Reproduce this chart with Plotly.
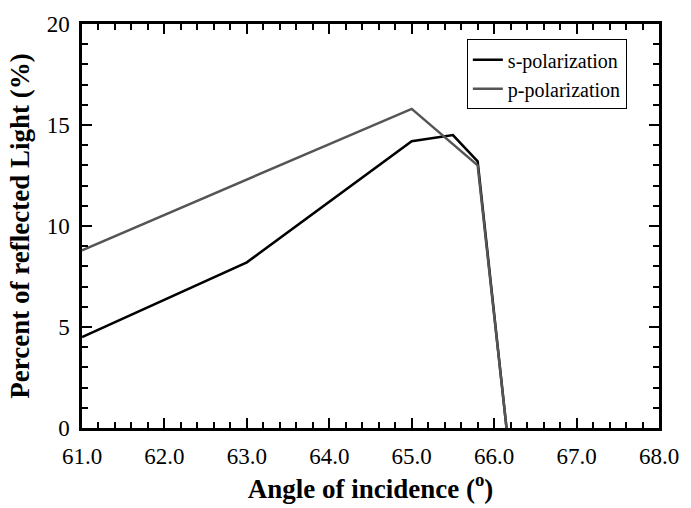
import plotly.graph_objects as go

# Reflectance vs. angle of incidence
angle_s = [61.0, 63.0, 65.0, 65.5, 65.8, 66.15]
refl_s = [4.5, 8.2, 14.2, 14.5, 13.2, 0.0]

angle_p = [61.0, 65.0, 65.8, 66.15]
refl_p = [8.8, 15.8, 13.0, 0.0]

x_ticks = [61, 62, 63, 64, 65, 66, 67, 68]
x_tick_text = ["61.0", "62.0", "63.0", "64.0", "65.0", "66.0", "67.0", "68.0"]
y_ticks = [0, 5, 10, 15, 20]

FONT = "Liberation Serif, Times New Roman, serif"

fig = go.Figure()
fig.add_trace(go.Scatter(x=angle_s, y=refl_s, mode="lines", name="s-polarization",
                         line=dict(color="#000000", width=2.5)))
fig.add_trace(go.Scatter(x=angle_p, y=refl_p, mode="lines", name="p-polarization",
                         line=dict(color="#555555", width=2.5)))

axis_common = dict(
    showline=True, linecolor="black", linewidth=2.5, mirror="ticks",
    ticks="inside", ticklen=10, tickwidth=2, tickcolor="black",
    showgrid=False, zeroline=False,
    tickfont=dict(family=FONT, size=23, color="black"),
)

fig.update_xaxes(
    range=[61, 68], tickvals=x_ticks, ticktext=x_tick_text,
    ticklabelstandoff=6,
    minor=dict(dtick=0.2, ticks="inside", ticklen=6, tickwidth=2, tickcolor="black"),
    title=dict(text="<b>Angle of incidence (<sup>o</sup>)</b>",
               font=dict(family=FONT, size=27, color="black"), standoff=8),
    **axis_common,
)
fig.update_yaxes(
    range=[0, 20], tickvals=y_ticks,
    ticklabelstandoff=5,
    minor=dict(dtick=1, ticks="inside", ticklen=6, tickwidth=2, tickcolor="black"),
    title=dict(text="<b>Percent of reflected Light (%)</b>",
               font=dict(family=FONT, size=27, color="black"), standoff=10),
    **axis_common,
)

fig.update_layout(
    width=691, height=508,
    margin=dict(l=82, r=28, t=18, b=76),
    font=dict(family=FONT, color="black"),
    plot_bgcolor="white", paper_bgcolor="white",
    showlegend=True,
    legend=dict(x=0.667, y=0.962, xanchor="left", yanchor="top",
                bordercolor="black", borderwidth=1, bgcolor="white",
                font=dict(family=FONT, size=20, color="black"),
                itemwidth=30, tracegroupgap=0),
)

fig.write_html("out.html")
